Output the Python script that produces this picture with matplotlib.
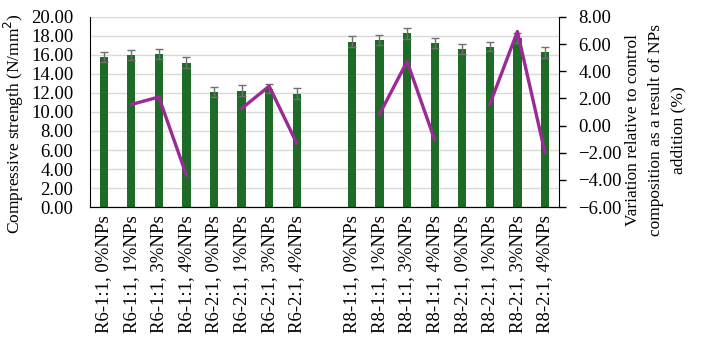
import numpy as np
import matplotlib.pyplot as plt

plt.rcParams['font.family'] = ['Liberation Serif', 'DejaVu Serif']

labels = ["R6-1:1, 0%NPs", "R6-1:1, 1%NPs", "R6-1:1, 3%NPs", "R6-1:1, 4%NPs",
          "R6-2:1, 0%NPs", "R6-2:1, 1%NPs", "R6-2:1, 3%NPs", "R6-2:1, 4%NPs",
          "",
          "R8-1:1, 0%NPs", "R8-1:1, 1%NPs", "R8-1:1, 3%NPs", "R8-1:1, 4%NPs",
          "R8-2:1, 0%NPs", "R8-2:1, 1%NPs", "R8-2:1, 3%NPs", "R8-2:1, 4%NPs"]
strength = [15.76, 16.0, 16.1, 15.2, 12.1, 12.25, 12.45, 11.94,
            np.nan,
            17.4, 17.54, 18.25, 17.25, 16.6, 16.86, 17.75, 16.27]
errors = [0.55, 0.55, 0.55, 0.55, 0.55, 0.55, 0.5, 0.55,
          np.nan,
          0.55, 0.55, 0.55, 0.55, 0.5, 0.5, 0.55, 0.55]
variation = [np.nan, 1.55, 2.1, -3.65, np.nan, 1.25, 2.9, -1.3,
             np.nan,
             np.nan, 0.83, 4.72, -1.05, np.nan, 1.57, 6.92, -2.0]

x = np.arange(len(labels))

fig, ax = plt.subplots(figsize=(7.02, 3.51), dpi=100)
fig.subplots_adjust(left=0.128, right=0.796, top=0.952, bottom=0.41)

# bars + error bars on left axis
ax.bar(x, strength, width=0.3, color='#1e6b27', zorder=2)
ax.errorbar(x, strength, yerr=errors, fmt='none', ecolor='#707070',
            elinewidth=1, capsize=3, capthick=1, zorder=3)
ax.set_ylim(0, 20)
ax.set_yticks(np.arange(0, 21, 2))
ax.set_yticklabels(["%.2f" % v for v in np.arange(0, 21, 2)], fontsize=13.5)
ax.set_xlim(-0.5, len(labels) - 0.5)
ax.set_xticks(x)
ax.set_xticklabels(labels, rotation=90, fontsize=13.5)
ax.tick_params(axis='y', length=0, pad=12)
ax.tick_params(axis='x', length=0, pad=6)
ax.grid(axis='y', color='#d9d9d9', linewidth=1, zorder=0)
ax.set_axisbelow(True)
ax.spines['top'].set_visible(False)
ax.spines['right'].set_visible(False)
ax.set_ylabel("Compressive strength (N/mm$^2$)", fontsize=12.5)
ax.yaxis.set_label_coords(-0.137, 0.437)

# variation line on right axis
ax2 = ax.twinx()
ax2.plot(x, variation, color='#9b2a96', linewidth=2.4, zorder=4)
ax2.set_ylim(-6, 8)
ax2.set_yticks(np.arange(-6, 9, 2))
ax2.set_yticklabels(["%.2f" % v if v >= 0 else "\u2212%.2f" % -v for v in np.arange(-6, 9, 2)],
                    fontsize=13.5)
ax2.tick_params(axis='y', length=5, width=1, pad=9)
ax2.spines['top'].set_visible(False)
ax2.spines['left'].set_visible(False)
ax2.set_ylabel("Variation relative to control\ncomposition as a result of NPs\naddition (%)",
               fontsize=12.5, linespacing=1.55)
ax2.yaxis.set_label_coords(1.141, 0.405)

fig.savefig("out.png", dpi=100)
